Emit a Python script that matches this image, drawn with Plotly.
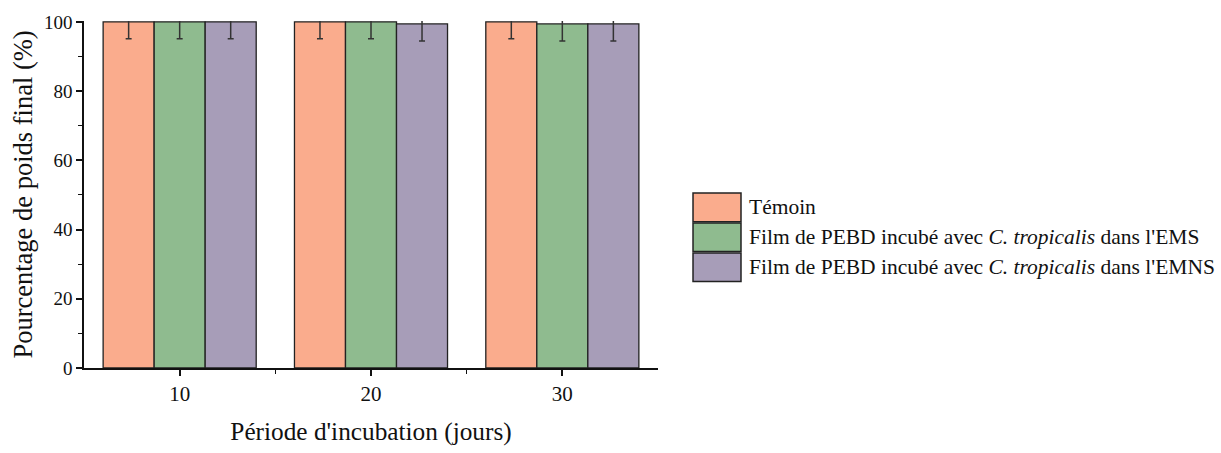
import plotly.graph_objects as go

# Incubation periods (days)
periods = [10, 20, 30]

# Final weight percentage per condition
temoin = [100.0, 100.0, 100.0]
ems = [100.0, 100.0, 99.4]
emns = [100.0, 99.4, 99.4]

# Standard deviations
err_temoin = [4.9, 4.9, 4.9]
err_ems = [4.9, 4.9, 4.9]
err_emns = [4.9, 4.9, 4.9]

names = [
    "Témoin",
    "Film de PEBD incubé avec <i>C. tropicalis</i> dans l'EMS",
    "Film de PEBD incubé avec <i>C. tropicalis</i> dans l'EMNS",
]
colors = ["#FAAC8D", "#8FBB8F", "#A79DB8"]
values = [temoin, ems, emns]
errors = [err_temoin, err_ems, err_emns]

FONT = "Times New Roman, Liberation Serif, DejaVu Serif, serif"

fig = go.Figure()
for name, col, vals, errs in zip(names, colors, values, errors):
    fig.add_trace(go.Bar(
        x=periods, y=vals, name=name,
        marker=dict(color=col, line=dict(color="#222222", width=1.3)),
        error_y=dict(type="data", array=errs, visible=True,
                     color="#333333", thickness=1.5, width=3),
        showlegend=False,
    ))

# Legend: swatches and labels in paper coordinates
box_x0, box_x1 = 1.061, 1.1446
row_h = 0.0862
top = 0.504
for i, (name, col) in enumerate(zip(names, colors)):
    y1 = top - i * row_h
    y0 = y1 - row_h + 0.004
    fig.add_shape(type="rect", xref="paper", yref="paper",
                  x0=box_x0, x1=box_x1, y0=y0, y1=y1,
                  fillcolor=col, line=dict(color="#222222", width=1.5))
    fig.add_annotation(xref="paper", yref="paper", x=box_x1 + 0.010,
                       y=(y0 + y1) / 2, text=name, showarrow=False,
                       xanchor="left", yanchor="middle",
                       font=dict(family=FONT, size=21.5, color="#111111"))

fig.update_layout(
    width=1221, height=453,
    margin=dict(l=84, r=563, t=21, b=83),
    paper_bgcolor="white", plot_bgcolor="white",
    barmode="group", bargap=0.2, bargroupgap=0,
    font=dict(family=FONT, size=17, color="#111111"),
)
fig.update_xaxes(
    range=[5, 35], tickvals=periods, ticktext=[str(p) for p in periods],
    showline=True, linecolor="#111111", linewidth=1.5,
    ticks="outside", ticklen=6, tickwidth=1.5, tickcolor="#111111",
    minor=dict(tickvals=[15, 25], ticks="outside", ticklen=4,
               tickwidth=1.2, tickcolor="#111111"),
    showgrid=False, zeroline=False,
    tickfont=dict(family=FONT, size=21),
    title=dict(text="Période d'incubation (jours)",
               font=dict(family=FONT, size=25.3), standoff=17),
)
fig.update_yaxes(
    range=[0, 100.25], tickvals=[0, 20, 40, 60, 80, 100],
    showline=True, linecolor="#111111", linewidth=1.5,
    ticks="outside", ticklen=6, tickwidth=1.5, tickcolor="#111111",
    minor=dict(tickvals=[10, 30, 50, 70, 90], ticks="outside", ticklen=4,
               tickwidth=1.2, tickcolor="#111111"),
    showgrid=False, zeroline=False,
    tickfont=dict(family=FONT, size=19),
    title=dict(text="Pourcentage de poids final (%)",
               font=dict(family=FONT, size=26.5), standoff=4),
)

fig.write_html("out.html")
